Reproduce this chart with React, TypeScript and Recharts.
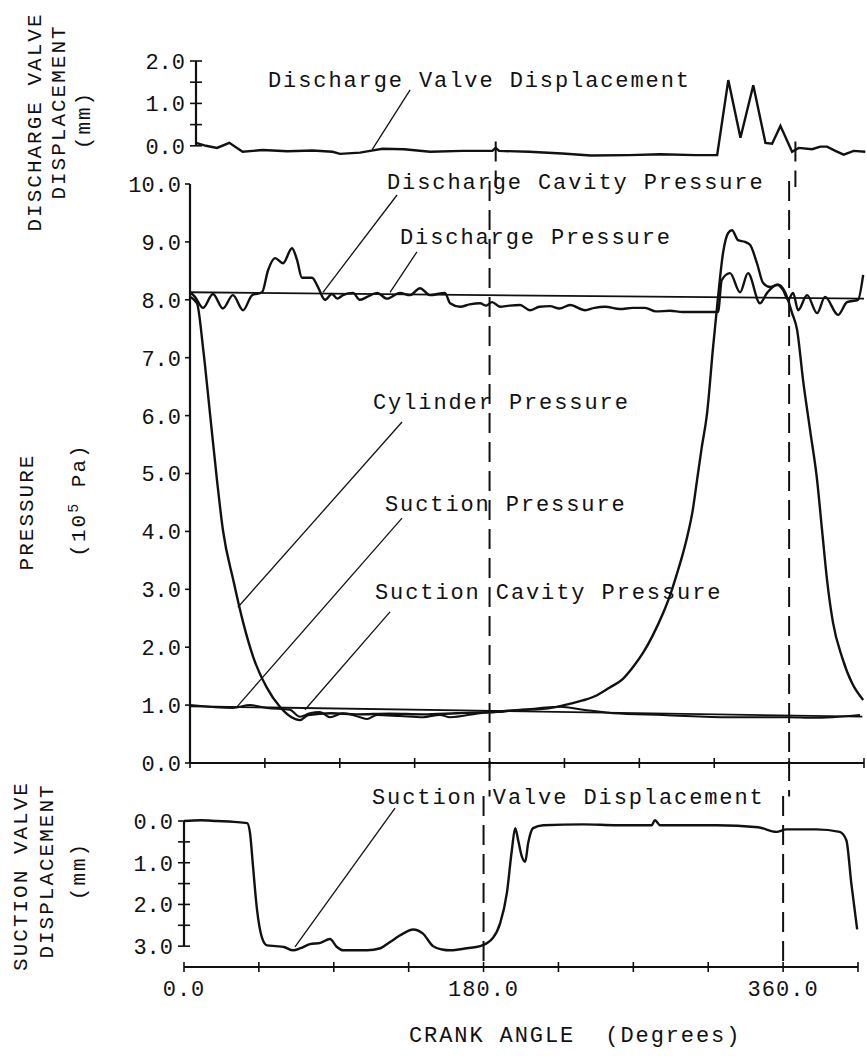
import React from 'react';
import { LineChart, Line, XAxis, YAxis, ReferenceLine } from 'recharts';

const FONT = '"Liberation Mono", "DejaVu Sans Mono", monospace';
const INK = '#111';

// crank angle axis (degrees)
const angleTicks = [0, 45, 90, 135, 180, 225, 270, 315, 360, 405];
const angleLabels = [0, 180, 360];
const tdcAngles = [180, 360];

// discharge valve displacement (mm)
const dvAngle = [0, 6, 12.6, 20, 28, 40, 55, 70, 82, 86.5, 98.5, 104.6, 112, 125, 140.6, 160, 178, 180, 182, 200, 220, 237, 260, 279, 300, 313, 319.7, 327, 334.7, 342, 346, 351, 358, 362, 370, 375, 379, 384, 389, 395, 402];
const dvMm = [0.07, 0.0, -0.05, 0.07, -0.14, -0.1, -0.13, -0.11, -0.14, -0.19, -0.16, -0.12, -0.07, -0.08, -0.14, -0.12, -0.12, -0.05, -0.12, -0.14, -0.18, -0.23, -0.22, -0.2, -0.22, -0.22, 1.55, 0.19, 1.43, 0.07, 0.05, 0.47, -0.14, -0.05, -0.08, -0.02, -0.02, -0.12, -0.21, -0.12, -0.14];
const dvTicks = [0, 0.5, 1, 1.5, 2];

// pressure (1e5 Pa)
const dischargeAngle = [0, 405];
const dischargeP = [8.13, 8.02];

const dCavAngle = [0, 3, 7.8, 13.8, 19.8, 25.8, 31.9, 37.3, 43.3, 46.9, 51.1, 55.9, 61.3, 64.3, 67.3, 73.3, 76.9, 81.1, 85.3, 88.5, 91.9, 98, 102, 106.4, 112.4, 118.4, 126.2, 132.2, 138.2, 144.2, 153.2, 156.3, 162.3, 168, 174.3, 178, 181.5, 186.3, 192, 198.3, 204.3, 210, 216.3, 222, 228.4, 237.4, 243, 249.4, 258.4, 266, 273.4, 280, 288.5, 296, 306.5, 317.3, 319.5, 324.5, 330.5, 335.3, 342.5, 346.8, 352.8, 356.4, 359.4, 362.4, 365.4, 370.8, 376.8, 381.6, 389.4, 394.8, 401.4, 404.5];
const dCavP = [8.13, 8.05, 7.86, 8.1, 7.85, 8.08, 7.82, 8.08, 8.13, 8.51, 8.72, 8.63, 8.89, 8.69, 8.38, 8.38, 8.22, 8.0, 8.1, 8.02, 8.08, 8.12, 8.0, 8.05, 8.12, 8.02, 8.12, 8.08, 8.2, 8.08, 8.12, 7.94, 7.88, 7.92, 7.94, 7.9, 7.96, 7.88, 7.9, 7.91, 7.82, 7.88, 7.89, 7.85, 7.91, 7.82, 7.86, 7.88, 7.84, 7.86, 7.86, 7.8, 7.81, 7.79, 7.79, 7.79, 8.34, 8.46, 8.13, 8.46, 7.94, 8.12, 8.26, 8.17, 8.0, 8.12, 7.82, 8.08, 7.77, 8.05, 7.74, 7.96, 8.0, 8.43];

const cylAngle = [0, 4.2, 7.8, 12, 16.2, 19.8, 26, 32, 38, 46, 54, 61, 66, 71, 85, 100, 120, 140, 160, 180, 200, 210, 220.5, 228, 236, 244.6, 252, 260, 266, 272.2, 278, 284.3, 288.5, 292.7, 296, 298.7, 302, 304.7, 307.5, 310.7, 314.3, 317.3, 320.3, 323.3, 325.7, 329.3, 333.5, 336.5, 340.7, 344.4, 348.6, 353.4, 357.6, 361.8, 364.8, 368.4, 372.6, 376.8, 379.8, 382.8, 386.4, 391.8, 397.8, 404.5];
const cylP = [8.05, 7.94, 7.18, 6.04, 4.89, 4.02, 3.16, 2.42, 1.83, 1.31, 0.97, 0.79, 0.74, 0.83, 0.86, 0.84, 0.85, 0.84, 0.86, 0.88, 0.92, 0.93, 0.97, 1.02, 1.08, 1.17, 1.3, 1.45, 1.65, 1.9, 2.2, 2.59, 2.9, 3.28, 3.6, 3.9, 4.35, 4.89, 5.45, 6.04, 7.18, 8.05, 8.81, 9.15, 9.2, 9.03, 9.0, 8.95, 8.63, 8.29, 8.22, 8.26, 8.13, 7.77, 7.48, 6.61, 5.75, 4.89, 4.02, 3.16, 2.42, 1.83, 1.38, 1.09];

const suctionAngle = [0, 404];
const suctionP = [0.98, 0.8];

const sCavAngle = [0, 25.8, 36, 46.3, 60, 66.1, 72, 78.1, 84.1, 91.9, 102.2, 106.4, 112.4, 126.2, 140, 150.2, 156.3, 174.3, 184.5, 200.1, 222.4, 236.2, 254.2, 284.3, 324.5, 359.4, 374.4, 402.6];
const sCavP = [1.0, 0.95, 1.0, 0.95, 0.92, 0.8, 0.86, 0.88, 0.79, 0.86, 0.79, 0.76, 0.83, 0.81, 0.79, 0.83, 0.79, 0.86, 0.88, 0.92, 0.97, 0.92, 0.86, 0.83, 0.79, 0.79, 0.78, 0.83];
const pTicks = [0, 1, 2, 3, 4, 5, 6, 7, 8, 9, 10];

// suction valve displacement (mm, plotted downward)
const svAngle = [0, 10, 20, 30, 38, 39.7, 41.5, 43.8, 46.9, 49.9, 55, 60, 65.5, 70, 75.7, 82, 87.7, 91.9, 95.6, 110, 118, 123.8, 131.6, 137.6, 143.6, 149.6, 155, 160, 170, 178, 185.7, 190, 194, 197, 199, 200.8, 203, 205, 206.8, 209.8, 215.9, 240, 260, 281, 283, 286, 320, 345, 356, 362, 380, 394, 398, 401, 404.5];
const svMm = [0.0, -0.02, 0.0, 0.02, 0.05, 0.3, 1.1, 2.1, 2.8, 2.98, 3.0, 3.02, 3.1, 3.05, 2.95, 2.92, 2.83, 3.02, 3.1, 3.1, 3.05, 2.9, 2.7, 2.6, 2.7, 3.0, 3.08, 3.1, 3.05, 3.0, 2.8, 2.45, 1.73, 0.7, 0.17, 0.46, 0.85, 0.98, 0.53, 0.17, 0.1, 0.08, 0.1, 0.1, -0.02, 0.1, 0.1, 0.15, 0.26, 0.2, 0.2, 0.26, 0.46, 1.5, 2.6];
const svTicks = [0, 0.5, 1, 1.5, 2, 2.5, 3];

const zip = (xs: number[], ys: number[]) => xs.map((a, i) => ({ a, v: ys[i] }));

const curve = { stroke: INK, strokeWidth: 2.4, dot: false, isAnimationActive: false } as const;
const leader = { stroke: INK, strokeWidth: 1.3, ifOverflow: 'visible' } as const;
const dashed = { stroke: INK, strokeWidth: 2, strokeDasharray: '20 9', ifOverflow: 'visible' } as const;

// dashed 180/360 markers, drawn panel by panel and run into the gaps between panels
const tdcLines = (top: number, bottom: number) =>
  tdcAngles.map((t) => (
    <ReferenceLine key={`tdc-${t}`} segment={[{ x: t, y: top }, { x: t, y: bottom }]} {...dashed} />
  ));

const yTick = (out: number, inside: number, gap: number) => (props: any) => {
  const { x, y, payload } = props;
  const v = payload.value as number;
  const major = Math.abs(v - Math.round(v)) < 1e-6;
  return (
    <g>
      <line x1={x - out} x2={x + inside} y1={y} y2={y} stroke={INK} strokeWidth={1.6} />
      {major && (
        <text x={x - gap} y={y} dy="0.36em" textAnchor="end" fontFamily={FONT} fontSize={22} fill={INK}>
          {v.toFixed(1)}
        </text>
      )}
    </g>
  );
};

const xTick = (showLabels: boolean) => (props: any) => {
  const { x, y, payload } = props;
  const v = payload.value as number;
  return (
    <g>
      <line x1={x} x2={x} y1={y - 5} y2={y + 5} stroke={INK} strokeWidth={1.6} />
      {showLabels && angleLabels.includes(v) && (
        <text x={x} y={y + 13} dy="0.71em" textAnchor="middle" fontFamily={FONT} fontSize={22} letterSpacing={1} fill={INK}>
          {v.toFixed(1)}
        </text>
      )}
    </g>
  );
};

const Note = ({ x, y, children }: { x: number; y: number; children: React.ReactNode }) => (
  <div
    style={{
      position: 'absolute', left: x, top: y - 17, fontFamily: FONT, fontSize: 22, lineHeight: '22px',
      letterSpacing: 1.9, whiteSpace: 'pre', color: INK,
    }}
  >
    {children}
  </div>
);

const VTitle = ({ cx, cy, children }: { cx: number; cy: number; children: React.ReactNode }) => (
  <div
    style={{
      position: 'absolute', left: cx, top: cy, transform: 'translate(-50%, -50%) rotate(-90deg)',
      fontFamily: FONT, fontSize: 21, lineHeight: '22px', letterSpacing: 2, whiteSpace: 'pre', color: INK,
    }}
  >
    {children}
  </div>
);

const abs: React.CSSProperties = { position: 'absolute', left: 0, top: 0 };

export default function App() {
  return (
    <div style={{ position: 'absolute', left: 0, top: 0, width: 867, height: 1059, overflow: 'hidden', background: '#fff' }}>
      {/* discharge valve displacement */}
      <div style={abs}>
        <LineChart width={867} height={200} margin={{ top: 61, right: 0, bottom: 33, left: 136 }}>
          <XAxis hide type="number" dataKey="a" domain={[0, 403]} />
          <YAxis type="number" domain={[-0.5, 2]} ticks={dvTicks} interval={0} width={60} axisLine={false}
            tickLine={false} tickSize={0} tickMargin={0} tick={yTick(6, 6, 11)} />
          <ReferenceLine segment={[{ x: 0, y: 0 }, { x: 0, y: 2 }]} stroke={INK} strokeWidth={2.2} ifOverflow="visible" />
          <ReferenceLine segment={[{ x: 105.8, y: -0.09 }, { x: 128.6, y: 1.32 }]} {...leader} />
          {tdcLines(0.1, -0.97)}
          <Line data={zip(dvAngle, dvMm)} dataKey="v" type="linear" {...curve} />
        </LineChart>
      </div>

      {/* pressures */}
      <div style={abs}>
        <LineChart width={867} height={810} margin={{ top: 184, right: 3, bottom: 37, left: 130 }}>
          <XAxis type="number" dataKey="a" domain={[0, 405]} ticks={angleTicks} interval={0} height={10}
            axisLine={{ stroke: INK, strokeWidth: 2.2 }} tickLine={false} tickSize={0} tickMargin={0} tick={xTick(false)} />
          <YAxis type="number" domain={[0, 10]} ticks={pTicks} interval={0} width={60}
            axisLine={{ stroke: INK, strokeWidth: 2.2 }} tickLine={false} tickSize={0} tickMargin={0} tick={yTick(5, 0, 9)} />
          <ReferenceLine segment={[{ x: 79.9, y: 8.13 }, { x: 124.4, y: 9.81 }]} {...leader} />
          <ReferenceLine segment={[{ x: 120.2, y: 8.13 }, { x: 136.4, y: 8.83 }]} {...leader} />
          <ReferenceLine segment={[{ x: 28.8, y: 2.69 }, { x: 127.4, y: 5.89 }]} {...leader} />
          <ReferenceLine segment={[{ x: 28.2, y: 0.97 }, { x: 127.4, y: 4.23 }]} {...leader} />
          <ReferenceLine segment={[{ x: 69.1, y: 0.92 }, { x: 120.2, y: 2.61 }]} {...leader} />
          {tdcLines(10.05, -0.58)}
          <Line data={zip(dischargeAngle, dischargeP)} dataKey="v" type="linear" {...curve} strokeWidth={1.8} />
          <Line data={zip(dCavAngle, dCavP)} dataKey="v" type="monotone" {...curve} />
          <Line data={zip(suctionAngle, suctionP)} dataKey="v" type="linear" {...curve} strokeWidth={1.8} />
          <Line data={zip(sCavAngle, sCavP)} dataKey="v" type="monotone" {...curve} strokeWidth={2} />
          <Line data={zip(cylAngle, cylP)} dataKey="v" type="monotone" {...curve} />
        </LineChart>
      </div>

      {/* suction valve displacement */}
      <div style={abs}>
        <LineChart width={867} height={1059} margin={{ top: 796, right: 9, bottom: 0, left: 124 }}>
          <XAxis type="number" dataKey="a" domain={[0, 405]} ticks={angleTicks} interval={0} height={92}
            axisLine={{ stroke: INK, strokeWidth: 2.2 }} tickLine={false} tickSize={0} tickMargin={0} tick={xTick(true)} />
          <YAxis type="number" reversed domain={[-0.6, 3.5]} ticks={svTicks} interval={0} width={60} axisLine={false}
            tickLine={false} tickSize={0} tickMargin={0} tick={yTick(6, 6, 11)} />
          <ReferenceLine segment={[{ x: 0, y: 0 }, { x: 0, y: 3 }]} stroke={INK} strokeWidth={2.2} ifOverflow="visible" />
          <ReferenceLine segment={[{ x: 66.7, y: 3.02 }, { x: 126.8, y: -0.31 }]} {...leader} />
          {tdcLines(-0.6, 3.5)}
          <Line data={zip(svAngle, svMm)} dataKey="v" type="monotone" {...curve} />
        </LineChart>
      </div>

      <Note x={268} y={88}>Discharge Valve Displacement</Note>
      <Note x={387} y={190}>Discharge Cavity Pressure</Note>
      <Note x={400} y={245}>Discharge Pressure</Note>
      <Note x={373} y={410}>Cylinder Pressure</Note>
      <Note x={385} y={512}>Suction Pressure</Note>
      <Note x={375} y={600}>Suction Cavity Pressure</Note>
      <Note x={372} y={805}>Suction Valve Displacement</Note>
      <Note x={409} y={1043}>CRANK ANGLE  (Degrees)</Note>

      <VTitle cx={36} cy={122}>DISCHARGE VALVE</VTitle>
      <VTitle cx={60} cy={112}>DISPLACEMENT</VTitle>
      <VTitle cx={85} cy={120}>(mm)</VTitle>
      <VTitle cx={28} cy={512}>PRESSURE</VTitle>
      <VTitle cx={80} cy={500}>
        (10<sup style={{ fontSize: 15, verticalAlign: 'top', lineHeight: '12px' }}>5</sup> Pa)
      </VTitle>
      <VTitle cx={22} cy={876}>SUCTION VALVE</VTitle>
      <VTitle cx={48} cy={871}>DISPLACEMENT</VTitle>
      <VTitle cx={80} cy={871}>(mm)</VTitle>
    </div>
  );
}
